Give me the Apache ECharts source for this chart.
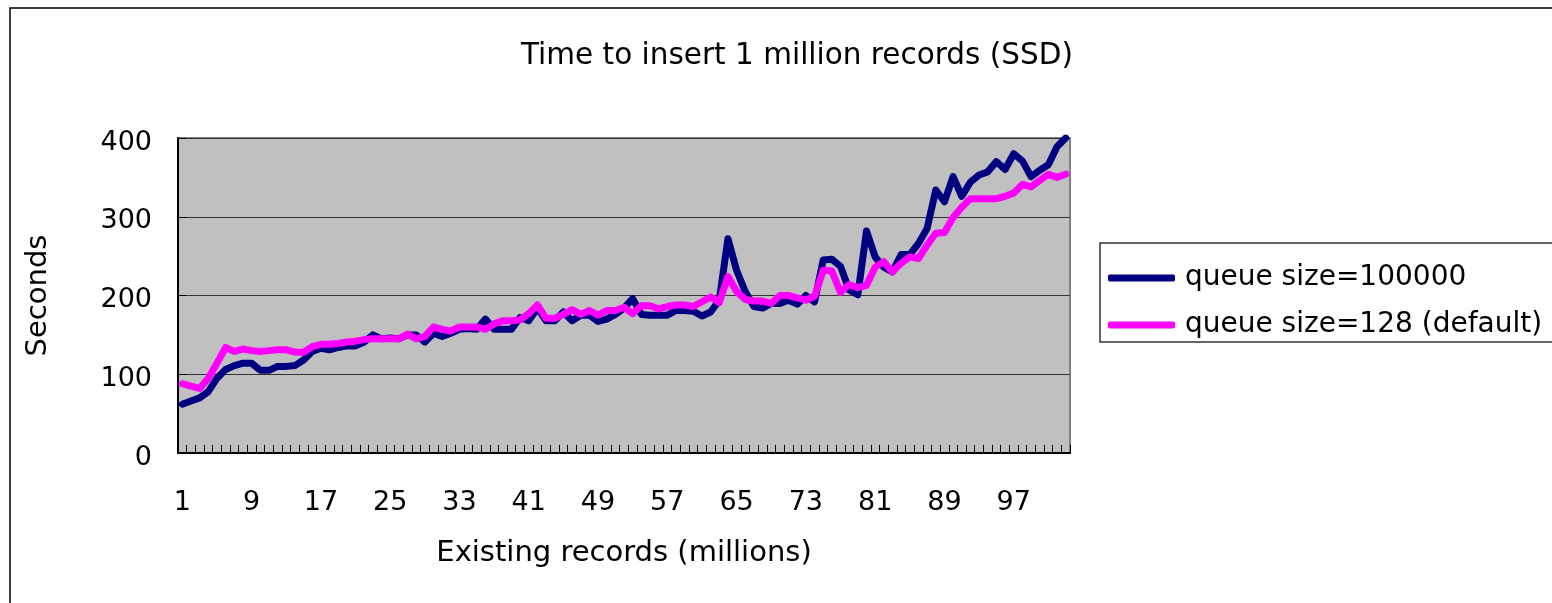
<!DOCTYPE html>
<html><head><meta charset="utf-8">
<script src="https://cdn.jsdelivr.net/npm/echarts@6/dist/echarts.min.js"></script>
<style>html,body{margin:0;padding:0;background:#fff;}#c{width:1552px;height:603px;}</style>
</head><body><div id="c"></div>
<script>
var categories = ['1','2','3','4','5','6','7','8','9','10','11','12','13','14','15','16','17','18','19','20',
'21','22','23','24','25','26','27','28','29','30','31','32','33','34','35','36','37','38','39','40',
'41','42','43','44','45','46','47','48','49','50','51','52','53','54','55','56','57','58','59','60',
'61','62','63','64','65','66','67','68','69','70','71','72','73','74','75','76','77','78','79','80',
'81','82','83','84','85','86','87','88','89','90','91','92','93','94','95','96','97','98','99','100',
'101','102','103'];
var queue100000 = [62,66,70,78,95,106,111,114,114,105,105,110,110,111,118,129,133,131,134,136,
136,141,150,145,146,145,150,150,141,152,148,152,157,158,157,170,157,157,157,172,
168,184,168,168,179,168,175,175,167,170,176,184,196,176,175,175,175,181,181,180,
174,179,194,272,232,205,186,184,190,190,194,189,200,192,245,246,237,207,201,282,
249,236,230,252,252,266,285,334,319,351,326,344,353,357,370,360,380,371,351,359,
366,389,400];
var queue128 = [88,85,82,95,114,134,129,132,130,129,130,131,131,128,128,135,138,138,139,141,
142,144,145,145,145,145,151,145,148,160,157,155,160,160,160,157,164,168,168,169,
177,188,171,171,176,182,176,181,175,181,181,185,177,187,187,183,186,188,188,186,
192,198,191,224,205,195,193,193,190,200,200,197,194,199,232,231,204,214,210,213,
236,243,230,241,249,247,264,279,280,299,312,323,323,323,323,326,330,341,338,346,
354,350,354];
var yTicks = [0,100,200,300,400];

var FONT = '"DejaVu Sans", "Noto Sans", sans-serif';
var chart = echarts.init(document.getElementById('c'), null, {renderer:'canvas'});
chart.setOption({
  backgroundColor:'#fff',
  animation:false,
  graphic:[{type:'rect', shape:{x:10,y:8,width:1700,height:800}, style:{fill:'none', stroke:'#000', lineWidth:1.5}, z:-1}],
  title:{text:'Time to insert 1 million records (SSD)', left:792, textAlign:'center', top:36,
    textStyle:{fontFamily:FONT, fontSize:29.5, fontWeight:'normal', color:'#000'}},
  legend:{orient:'vertical', left:1100, top:243, padding:[20,200,2,8], itemGap:17,
    borderColor:'#333', borderWidth:1.5, backgroundColor:'#fff',
    icon:'roundRect', itemWidth:67, itemHeight:7,
    textStyle:{fontFamily:FONT, fontSize:28, color:'#000', lineHeight:30, padding:[0,0,0,5]},
    data:['queue size=100000','queue size=128 (default)']},
  grid:{left:178, right:482, top:138, bottom:150, show:true, backgroundColor:'#C0C0C0', borderColor:'#808080', borderWidth:2},
  xAxis:{type:'category', data:categories, boundaryGap:true,
    name:'Existing records (millions)', nameLocation:'middle', nameGap:86,
    nameTextStyle:{fontFamily:FONT, fontSize:29, color:'#000'},
    axisLine:{show:true, lineStyle:{color:'#000', width:2}},
    axisTick:{show:true, inside:true, length:8, interval:0, lineStyle:{color:'#000', width:1}},
    axisLabel:{interval:7, margin:36, fontFamily:FONT, fontSize:27, color:'#000'},
    splitLine:{show:false}},
  yAxis:{type:'value', min:0, max:400, interval:100,
    name:'Seconds', nameLocation:'middle', nameGap:125, nameRotate:90,
    nameTextStyle:{fontFamily:FONT, fontSize:29, color:'#000'},
    axisLine:{show:true, lineStyle:{color:'#000', width:2}},
    axisTick:{show:true, inside:true, length:8, lineStyle:{color:'#000'}},
    axisLabel:{margin:26, color:'#000',
      formatter:function(v){return yTicks.indexOf(v)>=0? '{a|'+v+'}':'';},
      rich:{a:{fontFamily:FONT, fontSize:27, color:'#000', padding:[9,0,0,0]}}},
    splitLine:{show:true, lineStyle:{color:'#333', width:1.2}}},
  series:[
    {name:'queue size=100000', type:'line', data:queue100000, symbol:'none', smooth:false,
      lineStyle:{color:'#000080', width:7, cap:'round', join:'round'}, itemStyle:{color:'#000080'}},
    {name:'queue size=128 (default)', type:'line', data:queue128, symbol:'none', smooth:false,
      lineStyle:{color:'#FF00FF', width:7, cap:'round', join:'round'}, itemStyle:{color:'#FF00FF'}}
  ]
});
</script></body></html>
